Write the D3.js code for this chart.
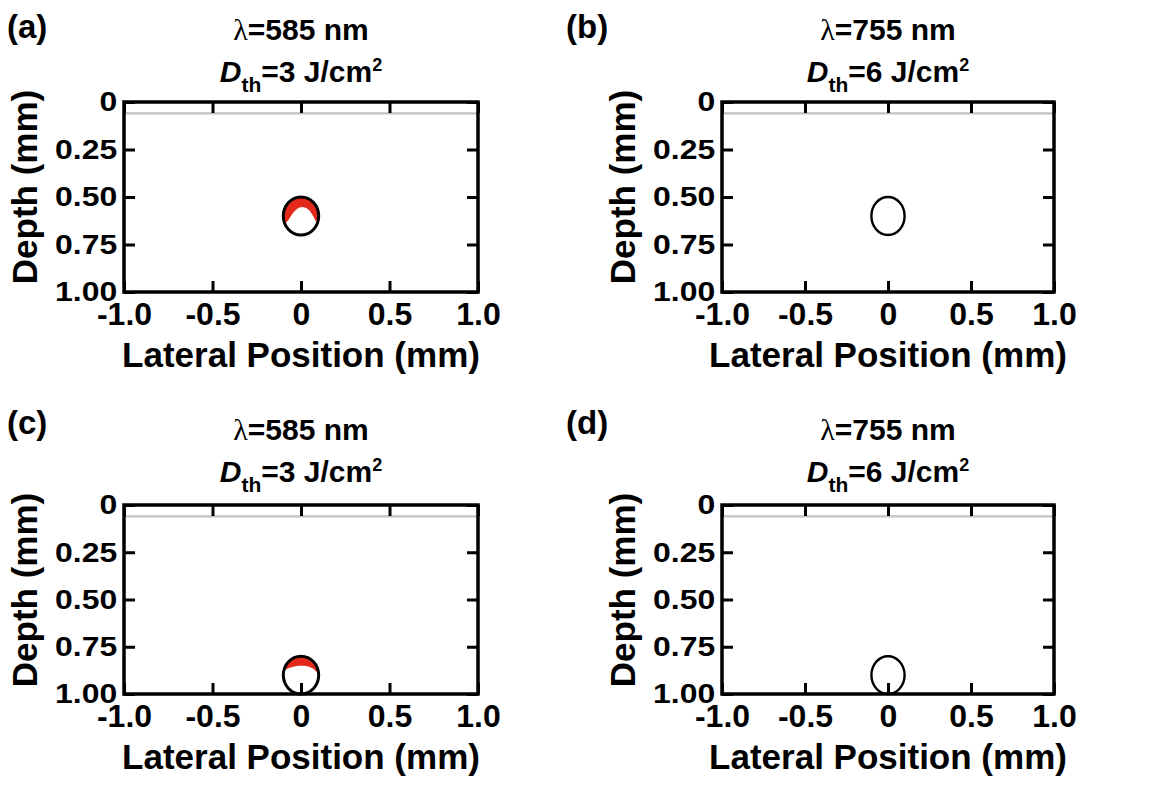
<!DOCTYPE html>
<html lang="en">
<head>
<meta charset="UTF-8">
<title>Vessel damage maps</title>
<script src="https://d3js.org/d3.v7.min.js"></script>
<style>
    body { margin: 0; background: #fff; }
    svg { display: block; font-family: "Liberation Sans", Arial, sans-serif; font-weight: bold; }
</style>
</head>
<body>
<svg id="chart" width="1155" height="785"></svg>
<script>
    // panel info
    const panelLabels = ["(a)", "(b)", "(c)", "(d)"];
    const wavelengths = [585, 755, 585, 755];
    const thresholds = [3, 6, 3, 6];
    const vesselDepth = [0.6, 0.6, 0.9, 0.9];
    const vesselRadius = 0.1;
    const surfaceDepth = 0.06;

    // axes
    const lateralTicks = [-1, -0.5, 0, 0.5, 1];
    const lateralLabels = ["-1.0", "-0.5", "0", "0.5", "1.0"];
    const depthTicks = [0, 0.25, 0.5, 0.75, 1];
    const depthLabels = ["0", "0.25", "0.50", "0.75", "1.00"];

    // lower edge of the damaged (red) zone inside the vessel, mm
    const damageX = [-0.1, -0.09, -0.07, -0.05, -0.03, -0.01, 0.01, 0.03, 0.05, 0.07, 0.09, 0.1];
    const damageA = [0.645, 0.64, 0.62, 0.59, 0.568, 0.555, 0.553, 0.558, 0.572, 0.603, 0.638, 0.648];
    const damageC = [0.875, 0.872, 0.864, 0.857, 0.853, 0.85, 0.85, 0.852, 0.857, 0.866, 0.885, 0.89];
    const damageEdges = [damageA, null, damageC, null];

    const boxes = [
        {left: 124, right: 478, top: 102, bottom: 292, labelX: 7, labelY: 38, textTop: 0},
        {left: 722, right: 1054, top: 102, bottom: 292, labelX: 566, labelY: 38, textTop: 0},
        {left: 124, right: 478, top: 505, bottom: 694, labelX: 7, labelY: 434, textTop: 400},
        {left: 722, right: 1054, top: 505, bottom: 694, labelX: 566, labelY: 434, textTop: 400}
    ];

    const svg = d3.select("#chart");
    const defs = svg.append("defs");

    panelLabels.forEach(function(label, i) {
        const b = boxes[i];
        const x = d3.scaleLinear().domain([-1, 1]).range([b.left, b.right]);
        const y = d3.scaleLinear().domain([0, 1]).range([b.top, b.bottom]);
        const g = svg.append("g");
        const cx = (b.left + b.right) / 2;

        // skin surface line
        g.append("line")
            .attr("x1", x(-1)).attr("x2", x(1))
            .attr("y1", y(surfaceDepth)).attr("y2", y(surfaceDepth))
            .attr("stroke", "#c2c2c2")
            .attr("stroke-width", 2.2);

        const rx = x(vesselRadius) - x(0);
        const ry = y(vesselRadius) - y(0);

        defs.append("clipPath").attr("id", "vessel" + i)
            .append("ellipse")
            .attr("cx", x(0)).attr("cy", y(vesselDepth[i]))
            .attr("rx", rx).attr("ry", ry);

        if (damageEdges[i]) {
            const pts = damageX.map((d, k) => [d, damageEdges[i][k]]);
            const area = d3.area()
                .x(d => x(d[0]))
                .y0(y(vesselDepth[i] - vesselRadius - 0.02))
                .y1(d => y(d[1]));
            g.append("path")
                .datum(pts)
                .attr("d", area)
                .attr("fill", "#e3281c")
                .attr("clip-path", "url(#vessel" + i + ")");
        }

        g.append("ellipse")
            .attr("cx", x(0)).attr("cy", y(vesselDepth[i]))
            .attr("rx", rx).attr("ry", ry)
            .attr("fill", "none")
            .attr("stroke", "#000")
            .attr("stroke-width", damageEdges[i] ? 3 : 2.4);

        // axes, ticks pointing inward
        function styleAxis(sel, size) {
            sel.attr("font-family", null).attr("font-size", null);
            sel.select(".domain").remove();
            sel.selectAll(".tick line").attr("stroke", "#000").attr("stroke-width", 3);
            sel.selectAll(".tick text").attr("fill", "#000").style("font-size", size + "px");
        }

        g.append("g")
            .attr("transform", `translate(0,${b.bottom})`)
            .call(d3.axisBottom(x).tickValues(lateralTicks).tickSize(-11).tickPadding(10)
                .tickFormat((d, k) => lateralLabels[k]))
            .call(s => styleAxis(s, 32));

        g.append("g")
            .attr("transform", `translate(0,${b.top})`)
            .call(d3.axisTop(x).tickValues(lateralTicks).tickSize(-11).tickFormat(""))
            .call(s => styleAxis(s, 32));

        g.append("g")
            .attr("transform", `translate(${b.left},0)`)
            .call(d3.axisLeft(y).tickValues(depthTicks).tickSize(-11).tickPadding(6)
                .tickFormat((d, k) => depthLabels[k]))
            .call(s => styleAxis(s, 28))
            .call(s => s.selectAll(".tick text").attr("transform", "scale(1.14,1)"));

        g.append("g")
            .attr("transform", `translate(${b.right},0)`)
            .call(d3.axisRight(y).tickValues(depthTicks).tickSize(-11).tickFormat(""))
            .call(s => styleAxis(s, 28));

        // frame
        g.append("rect")
            .attr("x", b.left).attr("y", b.top)
            .attr("width", b.right - b.left).attr("height", b.bottom - b.top)
            .attr("fill", "none")
            .attr("stroke", "#000")
            .attr("stroke-width", 3.5);

        // axis titles
        g.append("text")
            .attr("x", cx).attr("y", b.bottom + 75)
            .attr("text-anchor", "middle")
            .style("font-size", "35px")
            .text("Lateral Position (mm)");

        g.append("text")
            .attr("transform", `translate(${b.left - 87},${b.top + 85}) rotate(-90)`)
            .attr("text-anchor", "middle")
            .style("font-size", "35px")
            .text("Depth (mm)");

        // panel letter
        g.append("text")
            .attr("x", b.labelX).attr("y", b.labelY)
            .style("font-size", "33px")
            .text(label);

        // titles
        const t1 = g.append("text")
            .attr("x", cx).attr("y", b.textTop + 40)
            .attr("text-anchor", "middle")
            .style("font-size", "30px");
        t1.append("tspan").style("font-family", "'Liberation Serif', serif").style("font-weight", "normal").text("λ");
        t1.append("tspan").text("=" + wavelengths[i] + " nm");

        const t2 = g.append("text")
            .attr("x", cx).attr("y", b.textTop + 82)
            .attr("text-anchor", "middle")
            .style("font-size", "30px");
        t2.append("tspan").style("font-style", "italic").text("D");
        t2.append("tspan").attr("dy", 10).style("font-size", "21px").text("th");
        t2.append("tspan").attr("dy", -10).text("=" + thresholds[i] + " J/cm");
        t2.append("tspan").attr("dy", -11).style("font-size", "18px").text("2");
    });
</script>
</body>
</html>
